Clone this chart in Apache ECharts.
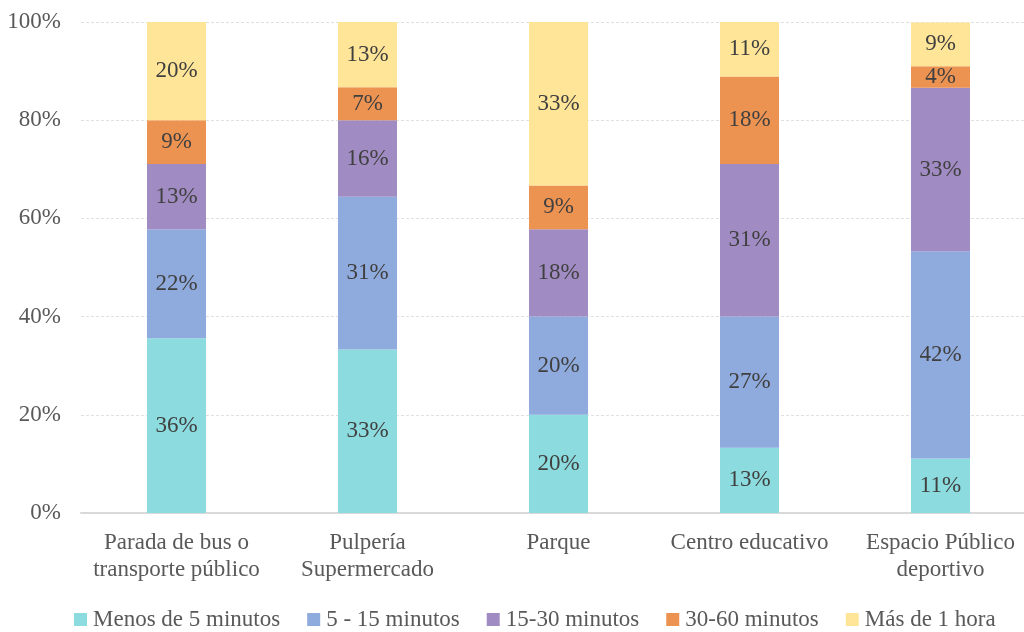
<!DOCTYPE html>
<html><head><meta charset="utf-8">
<script src="https://cdn.jsdelivr.net/npm/echarts@6/dist/echarts.min.js"></script>
<style>html,body{margin:0;padding:0;background:#fff}#c{width:1024px;height:632px}</style>
</head><body><div id="c"></div>
<script>
const categories = ['Parada de bus o\ntransporte público', 'Pulpería\nSupermercado', 'Parque', 'Centro educativo', 'Espacio Público\ndeportivo'];
const seriesNames = ['Menos de 5 minutos', '5 - 15 minutos', '15-30 minutos', '30-60 minutos', 'Más de 1 hora'];
const menos5 = [35.6, 33.3, 20.0, 13.3, 11.1];
const m5a15 = [22.2, 31.1, 20.0, 26.7, 42.2];
const m15a30 = [13.3, 15.6, 17.8, 31.1, 33.3];
const m30a60 = [8.9, 6.7, 8.9, 17.8, 4.4];
const mas1h = [20.0, 13.3, 33.3, 11.1, 8.9];
const yTicks = [0, 20, 40, 60, 80, 100];
const colors = ['#8CDCDF', '#8FAADC', '#A08CC3', '#ED9352', '#FFE597'];
const seriesData = [menos5, m5a15, m15a30, m30a60, mas1h];
const FONT = '"Liberation Serif", serif';
const chart = echarts.init(document.getElementById('c'));
chart.setOption({
  animation: false,
  textStyle: { fontFamily: FONT },
  grid: { left: 81, width: 955, top: 22, bottom: 119, outerBoundsMode: 'none', containLabel: false },
  legend: {
    top: 603, left: 69, itemWidth: 13, itemHeight: 13, itemGap: 27,
    icon: 'rect',
    textStyle: { fontFamily: FONT, fontSize: 23, color: '#595959', padding: [0, 0, 0, 1] },
    data: seriesNames
  },
  xAxis: {
    type: 'category', data: categories,
    axisLine: { lineStyle: { color: '#D9D9D9', width: 2 } },
    axisTick: { show: false },
    axisLabel: { fontFamily: FONT, fontSize: 23, color: '#595959', lineHeight: 27, margin: 16, interval: 0 }
  },
  yAxis: {
    type: 'value', min: 0, max: 100, interval: 20,
    axisLine: { show: false }, axisTick: { show: false },
    splitLine: { lineStyle: { color: '#E0E0E0', type: [3, 2] } },
    axisLabel: { fontFamily: FONT, fontSize: 23, color: '#595959', margin: 20,
      formatter: v => yTicks.includes(v) ? v + '%' : '' }
  },
  series: seriesNames.map((n, i) => ({
    name: n, type: 'bar', stack: 'total', barWidth: 59,
    itemStyle: { color: colors[i] },
    label: { show: true, position: 'inside', fontFamily: FONT, fontSize: 23, color: '#404040',
      formatter: p => Math.round(p.value) + '%' },
    data: seriesData[i]
  }))
});
</script></body></html>
